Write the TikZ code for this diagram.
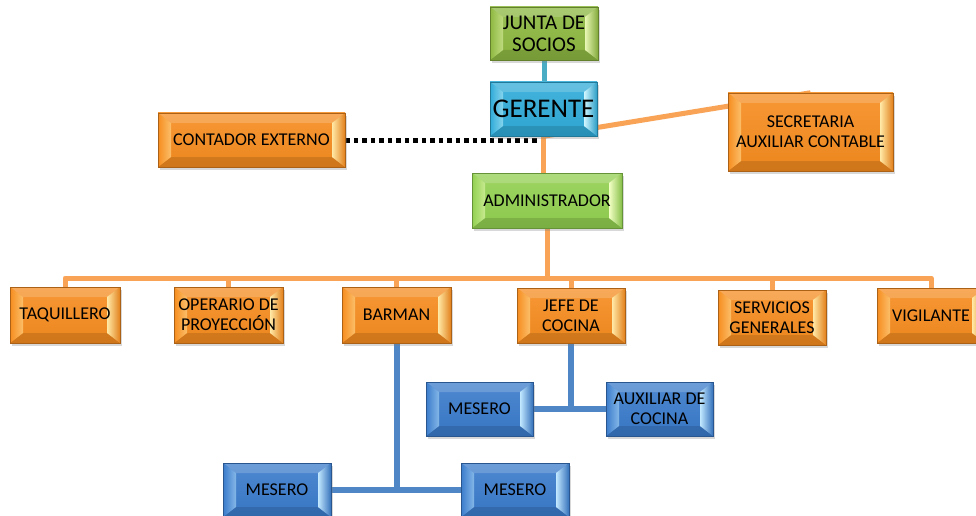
\documentclass[tikz,border=0pt]{standalone}
\usepackage{fontspec}
\setmainfont{Carlito}
\usetikzlibrary{calc,shadows}
\pgfdeclarelayer{bg0}
\pgfdeclarelayer{background}
\pgfsetlayers{bg0,background,main}
\definecolor{orgc}{HTML}{F68C1F}
\definecolor{orgl}{HTML}{FFE9A6}
\definecolor{grnc}{HTML}{92D050}
\definecolor{grnl}{HTML}{F2FFC4}
\definecolor{jnc}{HTML}{8DB840}
\definecolor{jnl}{HTML}{E9F7B4}
\definecolor{cyc}{HTML}{2FABD8}
\definecolor{cyl}{HTML}{CFF6FF}
\definecolor{blc}{HTML}{3A7BCB}
\definecolor{bll}{HTML}{C2E8FF}
\definecolor{olin}{HTML}{F9A357}
\definecolor{blin}{HTML}{4F86C6}
\definecolor{clin}{HTML}{4BACC6}
\newcommand\fsz{\fontsize{18}{20}\selectfont}
\newcommand\bvw{13}
\newcommand\bvh{10}
\tikzset{
  bevbox/.style 2 args={
    draw=#1!70!black, line width=0.5pt,
    top color=#1!90!white, bottom color=#1!96!black,
    minimum width=108pt, minimum height=54pt, inner sep=2pt,
    align=center, font=\fsz, text=black,
    drop shadow={shadow xshift=2pt,shadow yshift=-3pt,opacity=0.3},
    path picture={
      \path (path picture bounding box.north west) coordinate (pa)
            (path picture bounding box.south east) coordinate (pc);
      \path (pa -| pc) coordinate (pb) (pa |- pc) coordinate (pd);
      \fill[white,opacity=.18] (pa) -- (pb) -- ($(pb)+(-\bvw,\bvh)$) -- ($(pa)+(\bvw,\bvh)$) -- cycle;
      \fill[black,opacity=.12] (pd) -- (pc) -- ($(pc)+(-\bvw,-\bvh)$) -- ($(pd)+(\bvw,-\bvh)$) -- cycle;
      \shade[left color=#1, right color=#2!55!#1] (pa) -- ($(pa)+(\bvw,\bvh)$) -- ($(pd)+(\bvw,-\bvh)$) -- (pd) -- cycle;
      \shade[left color=#2, right color=#1!92!black] (pb) -- ($(pb)+(-\bvw,\bvh)$) -- ($(pc)+(-\bvw,-\bvh)$) -- (pc) -- cycle;
    }
  },
  obox/.style={bevbox={orgc}{orgl}},
  gbox/.style={bevbox={grnc}{grnl}},
  jbox/.style={bevbox={jnc}{jnl}},
  cbox/.style={bevbox={cyc}{cyl}},
  bbox/.style={bevbox={blc}{bll}},
  oline/.style={draw=olin, line width=5pt},
  bline/.style={draw=blin, line width=6pt},
  cline/.style={draw=clin, line width=5pt},
  dotline/.style={draw=black, line width=5pt, dash pattern=on 4.5pt off 4pt},
}
\begin{document}
\begin{tikzpicture}[x=1pt,y=-1pt]
\useasboundingbox (0,0) rectangle (976,516);
\begin{pgfonlayer}{bg0}
\fill[white] (0,0) rectangle (976,516);
\end{pgfonlayer}
% top
\node[jbox, font=\fontsize{21}{22}\selectfont, minimum height=53pt] (junta) at (544,33.5) {JUNTA DE\\SOCIOS};
\node[cbox, font=\fontsize{27}{30}\selectfont, minimum width=107pt] (ger) at (543.5,109) {GERENTE};
\node[gbox, minimum width=150pt, minimum height=55pt] (adm) at (547,200.5) {ADMINISTRADOR};
\node[obox, minimum width=187pt] (cont) at (251.5,140) {CONTADOR EXTERNO};
\node[obox, minimum width=165pt, minimum height=78pt] (sec) at (810.5,132) {SECRETARIA\\AUXILIAR CONTABLE};
% row
\node[obox, minimum width=110pt, minimum height=56pt] (taq) at (65,315) {TAQUILLERO};
\node[obox, minimum width=109pt, minimum height=56pt] (ope) at (228.5,315) {OPERARIO DE\\PROYECCIÓN};
\node[obox, minimum width=109pt, minimum height=56pt] (bar) at (396.5,315) {BARMAN};
\node[obox, minimum height=55pt] (jef) at (571,315.5) {JEFE DE\\COCINA};
\node[obox, minimum height=55pt] (ser) at (772,317.5) {SERVICIOS\\GENERALES};
\node[obox, minimum height=55pt] (vig) at (931,315.5) {VIGILANTE};
% blue
\node[bbox, minimum width=107pt] (mes1) at (479.5,409) {MESERO};
\node[bbox, minimum width=107pt] (aux) at (659.5,409) {AUXILIAR DE\\COCINA};
\node[bbox] (mes2) at (277,490) {MESERO};
\node[bbox] (mes3) at (515,490) {MESERO};
\coordinate (bus) at (545,278);
\coordinate (dend) at (539,140);
\begin{pgfonlayer}{background}
\draw[cline] (junta.south) -- (junta.south |- ger.north);
\draw[oline] (ger.south) -- (ger.south |- adm.north);
\draw[oline] (ger.south) -- (sec.north);
\draw[dotline] (cont.east) -- (dend);
\draw[oline] (adm.south) -- (adm.south |- bus);
\draw[oline, line join=round] (taq.north) |- (bus);
\draw[oline, line join=round] (ope.north) |- (bus);
\draw[oline, line join=round] (bar.north) |- (bus);
\draw[oline, line join=round] (jef.north) |- (bus);
\draw[oline, line join=round] (ser.north) |- (bus);
\draw[oline, line join=round] (vig.north) |- (bus);
\draw[bline] (bar.south) |- (mes2.east);
\draw[bline] (bar.south) |- (mes3.west);
\draw[bline] (jef.south) |- (mes1.east);
\draw[bline] (jef.south) |- (aux.west);
\end{pgfonlayer}
\end{tikzpicture}
\end{document}
